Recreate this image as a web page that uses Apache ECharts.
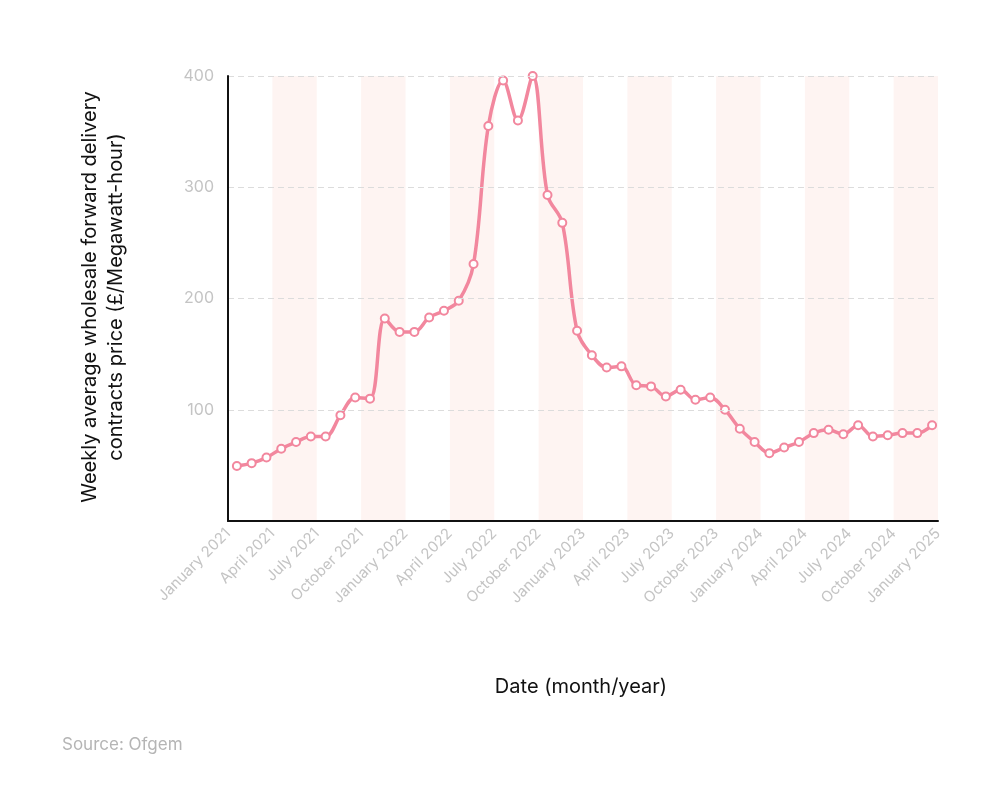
<!DOCTYPE html>
<html>
<head>
<meta charset="utf-8">
<script src="https://cdn.jsdelivr.net/npm/echarts@6/dist/echarts.min.js"></script>
<style>html,body{margin:0;padding:0;background:#fff}#main{width:1000px;height:797px}</style>
</head>
<body>
<div id="main"></div>
<script>
// months since Jan 2021, every quarter gets a label
var tickLabels = ['January 2021','April 2021','July 2021','October 2021','January 2022','April 2022','July 2022','October 2022',
    'January 2023','April 2023','July 2023','October 2023','January 2024','April 2024','July 2024','October 2024','January 2025'];
// monthly prices, points sit mid-month
var prices = [49.5, 52, 57, 65, 71, 76, 76, 95, 111, 110, 182, 170,
    170, 183, 189, 198, 231, 355, 396, 360, 400, 293, 268, 171,
    149, 138, 139, 122, 121, 112, 118, 109, 111, 100, 83, 71,
    61, 66, 71, 79, 82, 78, 86, 76, 77, 79, 79, 86];
// shaded quarters [start month, end month]
var bands = [[3, 6], [9, 12], [15, 18], [21, 24], [27, 30], [33, 36], [39, 42], [45, 48]];

var myChart = echarts.init(document.getElementById('main'));
var seriesData = prices.map(function (v, i) { return [i + 0.6, v]; });
var font = 'Inter, "Liberation Sans", sans-serif';

var option = {
    animation: false,
    grid: { left: 228, right: 62, top: 76, bottom: 276 },
    graphic: [
        { type: 'text', left: 62, top: 736, style: { text: 'Source: Ofgem', fill: '#b5b5b5', font: '17px ' + font } },
        { type: 'text', x: 581, y: 687, style: { text: 'Date (month/year)', fill: '#111', font: '20px ' + font, align: 'center', verticalAlign: 'middle' } },
        { type: 'text', x: 103, y: 297, rotation: Math.PI / 2, style: { text: 'Weekly average wholesale forward delivery\ncontracts price (£/Megawatt-hour)', fill: '#111', font: '20px ' + font, align: 'center', verticalAlign: 'middle', lineHeight: 26 } }
    ],
    xAxis: {
        type: 'value', min: 0, max: 48, interval: 3, z: 10,
        axisLine: { lineStyle: { color: '#111', width: 2 } },
        axisTick: { show: false },
        splitLine: { show: false },
        axisLabel: {
            rotate: 45, color: '#c4c4c4', fontSize: 15, fontFamily: 'Inter', margin: 10,
            formatter: function (v) { return tickLabels[Math.round(v / 3)] || ''; }
        }
    },
    yAxis: {
        type: 'value', min: 0, max: 400, interval: 100, z: 10,
        axisLine: { show: true, lineStyle: { color: '#111', width: 2 } },
        axisTick: { show: false },
        splitLine: { lineStyle: { color: '#dcdcdc', type: [6, 4] } },
        axisLabel: {
            color: '#c4c4c4', fontSize: 16, fontFamily: 'Inter', margin: 14,
            formatter: function (v) { return v === 0 ? '' : v; }
        }
    },
    series: [{
        type: 'line',
        data: seriesData,
        smooth: 0.35,
        symbol: 'circle',
        symbolSize: 8,
        lineStyle: { color: '#f2879e', width: 3.5 },
        itemStyle: { color: '#fff', borderColor: '#f2879e', borderWidth: 2 },
        markArea: {
            silent: true,
            itemStyle: { color: '#fef4f2' },
            data: bands.map(function (b) { return [{ xAxis: b[0] }, { xAxis: b[1] }]; })
        },
        z: 2
    }]
};
myChart.setOption(option);
</script>
</body>
</html>
